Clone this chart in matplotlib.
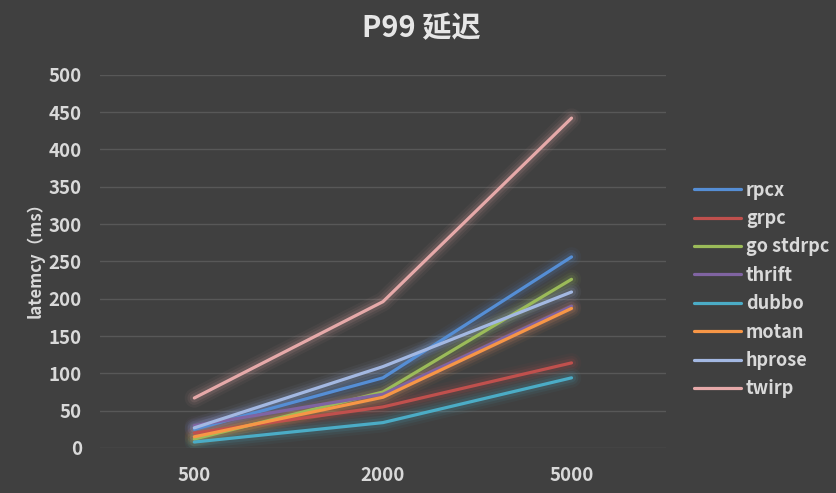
import matplotlib
matplotlib.use("Agg")
import matplotlib.pyplot as plt
import numpy as np

plt.rcParams['font.family'] = ['Noto Sans CJK SC', 'DejaVu Sans']

# 并发数 (类别轴)
categories = ["500", "2000", "5000"]

# 各框架 P99 延迟 (ms)
rpcx = [25, 94, 256]
grpc = [20, 55, 114]
go_stdrpc = [12, 75, 226]
thrift = [30, 72, 190]
dubbo = [8, 34, 94]
motan = [15, 68, 187]
hprose = [27, 109, 209]
twirp = [67, 196, 442]

series_names = ["rpcx", "grpc", "go stdrpc", "thrift", "dubbo", "motan", "hprose", "twirp"]
series_values = [rpcx, grpc, go_stdrpc, thrift, dubbo, motan, hprose, twirp]
series_colors = ["#558ED5", "#C0504D", "#9BBB59", "#8064A2",
                 "#4BACC6", "#F79646", "#A3B8E2", "#E6A9A9"]

y_ticks = [0, 50, 100, 150, 200, 250, 300, 350, 400, 450, 500]

BG = "#404040"
TXT = "#D9D9D9"

fig = plt.figure(figsize=(8.37, 4.93), dpi=100, facecolor=BG)
ax = fig.add_axes([0.1195, 0.0913, 0.676, 0.757], facecolor=BG)

x = np.arange(len(categories))

handles = []
for name, vals, col in zip(series_names, series_values, series_colors):
    # 发光效果：底层叠加几层半透明宽线
    for lw, a in [(14, 0.05), (10, 0.08), (6.5, 0.12)]:
        ax.plot(x, vals, color=col, linewidth=lw, alpha=a,
                solid_capstyle='round', solid_joinstyle='round', zorder=2)
    h, = ax.plot(x, vals, color=col, linewidth=2.3, label=name,
                 solid_capstyle='round', zorder=3)
    handles.append(h)

ax.set_xlim(-0.5, 2.5)
ax.set_ylim(0, 500)
ax.set_xticks(x)
ax.set_xticklabels(categories)
ax.set_yticks(y_ticks)

ax.grid(axis='y', color="#585858", linewidth=1.0)
ax.set_axisbelow(True)
for s in ax.spines.values():
    s.set_visible(False)
ax.tick_params(axis='both', length=0, colors=TXT, labelsize=13.5)
ax.tick_params(axis='x', pad=13)
ax.tick_params(axis='y', pad=13)
for lbl in ax.get_xticklabels() + ax.get_yticklabels():
    lbl.set_fontweight('bold')

ax.set_ylabel("latemcy（ms）", color=TXT, fontsize=12, fontweight='bold')
ax.yaxis.set_label_coords(-0.098, 0.515)

fig.text(0.503, 0.943, "P99 延迟", ha='center', va='center', color="#E6E6E6",
         fontsize=21, fontweight='bold')

leg = fig.legend(handles=handles, loc='upper left', bbox_to_anchor=(0.818, 0.652),
                 frameon=False, fontsize=13, handlelength=2.6, handletextpad=0.3,
                 labelspacing=0.52, borderpad=0)
for t in leg.get_texts():
    t.set_color(TXT)
    t.set_fontweight('bold')

fig.savefig("out.png", dpi=100, facecolor=BG)
